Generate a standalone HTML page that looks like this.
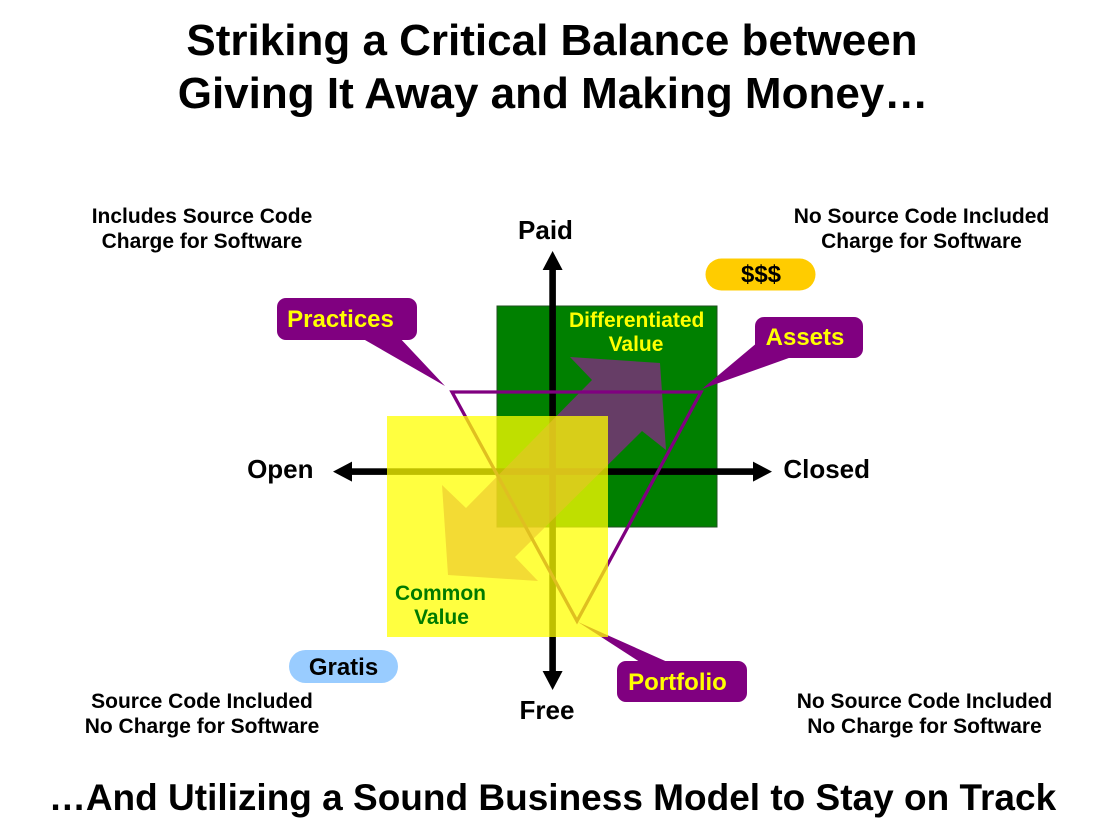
<!DOCTYPE html>
<html>
<head>
<meta charset="utf-8">
<style>
  html, body { margin: 0; padding: 0; background: #ffffff; }
  body { width: 1100px; height: 829px; overflow: hidden; }
  svg { display: block; }
  text { font-family: "Liberation Sans", Arial, sans-serif; font-weight: bold; }
</style>
</head>
<body>
<svg width="1100" height="829" viewBox="0 0 1100 829" xmlns="http://www.w3.org/2000/svg">
  <rect x="0" y="0" width="1100" height="829" fill="#ffffff"/>

  <!-- Title -->
  <text x="552" y="55" font-size="44" text-anchor="middle" fill="#000">Striking a Critical Balance between</text>
  <text x="553" y="108" font-size="44" text-anchor="middle" fill="#000">Giving It Away and Making Money…</text>

  <!-- Corner labels -->
  <g font-size="21" fill="#000" text-anchor="middle">
    <text x="202" y="223">Includes Source Code</text>
    <text x="202" y="248">Charge for Software</text>
    <text x="921.5" y="223">No Source Code Included</text>
    <text x="921.5" y="248">Charge for Software</text>
    <text x="202" y="708">Source Code Included</text>
    <text x="202" y="733">No Charge for Software</text>
    <text x="924.5" y="708">No Source Code Included</text>
    <text x="924.5" y="733">No Charge for Software</text>
  </g>

  <!-- Green square -->
  <rect x="497" y="306" width="220" height="221" fill="#008000" stroke="#1f4f1f" stroke-width="1"/>

  <!-- Axes -->
  <rect x="549.3" y="268" width="6.6" height="405" fill="#000"/>
  <polygon points="552.6,251 542.6,270 562.6,270" fill="#000"/>
  <polygon points="552.6,690 542.6,671 562.6,671" fill="#000"/>
  <rect x="350" y="468.3" width="405" height="6.6" fill="#000"/>
  <polygon points="333,471.6 352,461.6 352,481.6" fill="#000"/>
  <polygon points="772,471.6 753,461.6 753,481.6" fill="#000"/>

  <!-- Double-headed diagonal arrow (semi-transparent purple) -->
  <polygon points="660,363 666,450 642,431 515,557 538,581 448,575 442,485 466,508 592,380 570,357"
           fill="rgb(173,14,173)" fill-opacity="0.59"/>

  <!-- Triangle -->
  <polygon points="452,392 701,392 577,621" fill="none" stroke="#800080" stroke-width="3.3" stroke-linejoin="miter"/>

  <!-- Portfolio tail (under yellow) -->
  <polygon points="578,622 643,664 672,664" fill="#800080"/>

  <!-- Yellow square -->
  <rect x="387" y="416" width="221" height="221" fill="#ffff00" fill-opacity="0.75"/>

  <!-- Practices callout -->
  <polygon points="358,336 398,336 445,386" fill="#800080"/>
  <rect x="277" y="298" width="140" height="42" rx="9" ry="9" fill="#800080"/>
  <text x="340.5" y="327" font-size="24" text-anchor="middle" fill="#ffff00">Practices</text>

  <!-- Assets callout -->
  <polygon points="702,389 758,342 800,354" fill="#800080"/>
  <rect x="755" y="317" width="108" height="41" rx="9" ry="9" fill="#800080"/>
  <text x="805" y="345" font-size="24" text-anchor="middle" fill="#ffff00">Assets</text>

  <!-- Portfolio callout -->
  <rect x="617" y="661" width="130" height="41" rx="9" ry="9" fill="#800080"/>
  <text x="677.5" y="690" font-size="24" text-anchor="middle" fill="#ffff00">Portfolio</text>

  <!-- $$$ pill -->
  <rect x="705.5" y="258.5" width="110" height="32" rx="16" ry="16" fill="#ffcc00"/>
  <text x="761" y="282" font-size="24" text-anchor="middle" fill="#000">$$$</text>

  <!-- Gratis pill -->
  <rect x="289" y="650" width="109" height="33" rx="16.5" ry="16.5" fill="#99ccff"/>
  <text x="343.5" y="675" font-size="24" text-anchor="middle" fill="#000">Gratis</text>

  <!-- Square labels -->
  <text x="636.7" y="327" font-size="21" text-anchor="middle" fill="#ffff00">Differentiated</text>
  <text x="636" y="351" font-size="21" text-anchor="middle" fill="#ffff00">Value</text>
  <text x="440.5" y="600" font-size="21" text-anchor="middle" fill="#007a00">Common</text>
  <text x="441.5" y="624" font-size="21" text-anchor="middle" fill="#007a00">Value</text>

  <!-- Axis labels -->
  <g font-size="26" fill="#000" text-anchor="middle">
    <text x="545.5" y="239">Paid</text>
    <text x="547" y="719">Free</text>
    <text x="280.3" y="478">Open</text>
    <text x="826.7" y="478">Closed</text>
  </g>

  <!-- Bottom line -->
  <text x="552.5" y="810" font-size="37" text-anchor="middle" fill="#000">…And Utilizing a Sound Business Model to Stay on Track</text>
</svg>
</body>
</html>
